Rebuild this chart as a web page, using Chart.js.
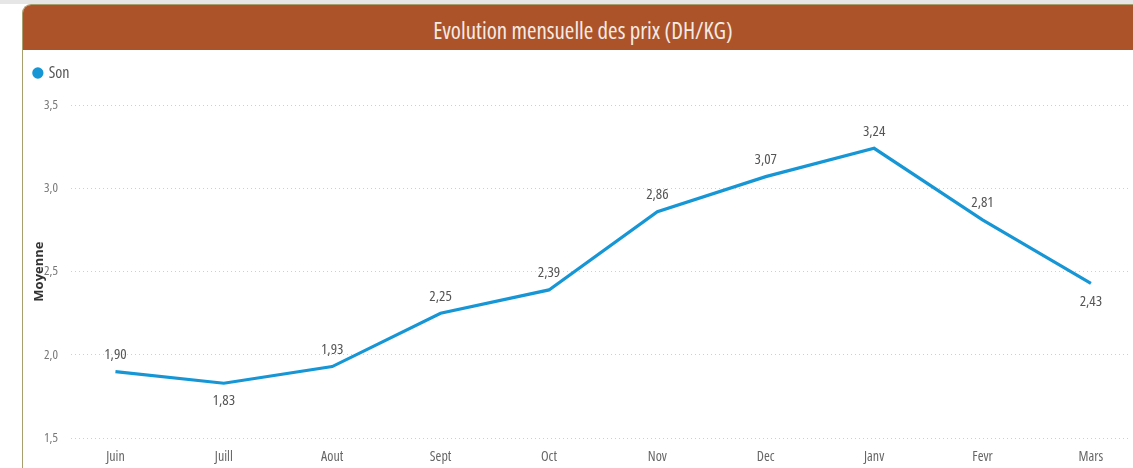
<!DOCTYPE html>
<html>
<head>
<meta charset="utf-8">
<script src="https://cdn.jsdelivr.net/npm/chart.js@4/dist/chart.umd.min.js"></script>
<style>
  html, body { margin: 0; padding: 0; background: #fff; }
  #page { position: relative; width: 1133px; height: 468px; overflow: hidden; background: #fff; }
  #strip { position: absolute; left: 0; top: 0; width: 1133px; height: 4px; background: #e6e6e6; }
  #card { position: absolute; left: 22px; top: 4px; width: 1120px; height: 470px;
          border-left: 1px solid #a89f70; border-top: 1px solid #a89f70; border-top-left-radius: 9px; overflow: hidden; }
  #head { height: 45px; background: #ad532a; color: #f3ebe5; text-align: center;
          font-family: 'Open Sans', sans-serif; font-stretch: condensed; font-size: 23px; line-height: 50px; }
  #wrap { position: absolute; left: 24px; top: 50px; width: 1109px; height: 425px; }
</style>
</head>
<body>
<div id="page">
  <div id="strip"></div>
  <div id="card"><div id="head">Evolution mensuelle des prix (DH/KG)</div></div>
  <div id="wrap"><canvas id="chart"></canvas></div>
</div>
<script>
// mois (juin -> mars)
const months = ['Juin', 'Juill', 'Aout', 'Sept', 'Oct', 'Nov', 'Dec', 'Janv', 'Fevr', 'Mars'];
// prix moyen du son, DH/KG
const sonPrices = [1.90, 1.83, 1.93, 2.25, 2.39, 2.86, 3.07, 3.24, 2.81, 2.43];
const yTicks = [1.5, 2.0, 2.5, 3.0, 3.5];
// labels placed under the line
const labelsBelow = ['Juill', 'Mars'];

const fam = "'Open Sans', sans-serif";
const fmt = v => v.toFixed(2).replace('.', ',');

// draws the value labels next to each point
const valueLabels = {
  id: 'valueLabels',
  afterDatasetsDraw(chart) {
    const ctx = chart.ctx;
    const meta = chart.getDatasetMeta(0);
    ctx.save();
    ctx.font = 'condensed 15px ' + fam;
    ctx.fillStyle = '#555';
    ctx.textAlign = 'center';
    ctx.textBaseline = 'middle';
    meta.data.forEach((pt, i) => {
      const below = labelsBelow.includes(months[i]);
      ctx.fillText(fmt(sonPrices[i]), pt.x, pt.y + (below ? 18 : -17));
    });
    ctx.restore();
  }
};

// extra room between legend and plot
const legendGap = {
  id: 'legendGap',
  beforeInit(chart) {
    const fit = chart.legend.fit;
    chart.legend.fit = function () {
      fit.bind(chart.legend)();
      this.height += 14;
    };
  }
};

const ctx = document.getElementById('chart').getContext('2d');
new Chart(ctx, {
  type: 'line',
  data: {
    datasets: [{
      label: 'Son',
      data: sonPrices.map((v, i) => ({ x: i, y: v })),
      borderColor: '#1796d6',
      backgroundColor: '#1796d6',
      borderWidth: 3.2,
      pointRadius: 0,
      tension: 0
    }]
  },
  options: {
    responsive: true,
    maintainAspectRatio: false,
    animation: false,
    layout: { padding: { top: 4, right: 2, bottom: 0, left: 0 } },
    plugins: {
      legend: {
        position: 'top',
        align: 'start',
        labels: {
          usePointStyle: true,
          pointStyle: 'circle',
          boxWidth: 5.7,
          boxHeight: 5.7,
          padding: 11,
          color: '#555',
          font: { family: fam, size: 16, weight: 'semi-condensed' }
        }
      },
      tooltip: { enabled: false }
    },
    scales: {
      x: {
        type: 'linear',
        min: -0.41,
        max: 9.37,
        afterBuildTicks: s => { s.ticks = months.map((m, i) => ({ value: i })); },
        ticks: {
          callback: v => months[v],
          color: '#666',
          padding: 10,
          maxRotation: 0,
          font: { family: fam, size: 14, weight: 'condensed' }
        },
        grid: { display: false, drawTicks: false },
        border: { display: false }
      },
      y: {
        min: 1.5,
        max: 3.5,
        afterBuildTicks: s => { s.ticks = yTicks.map(v => ({ value: v })); },
        afterFit: s => { s.width = 47; },
        ticks: {
          callback: v => v.toFixed(1).replace('.', ','),
          color: '#777',
          padding: 13,
          font: { family: fam, size: 13, weight: 'condensed' }
        },
        grid: { color: '#cfcfcf', lineWidth: 1, drawTicks: false },
        border: { display: false, dash: [1, 3] },
        title: {
          display: true,
          text: 'Moyenne',
          color: '#333',
          padding: { top: 7, bottom: 0 },
          font: { family: fam, size: 13, weight: 'bold' }
        }
      }
    }
  },
  plugins: [valueLabels, legendGap]
});
</script>
</body>
</html>
